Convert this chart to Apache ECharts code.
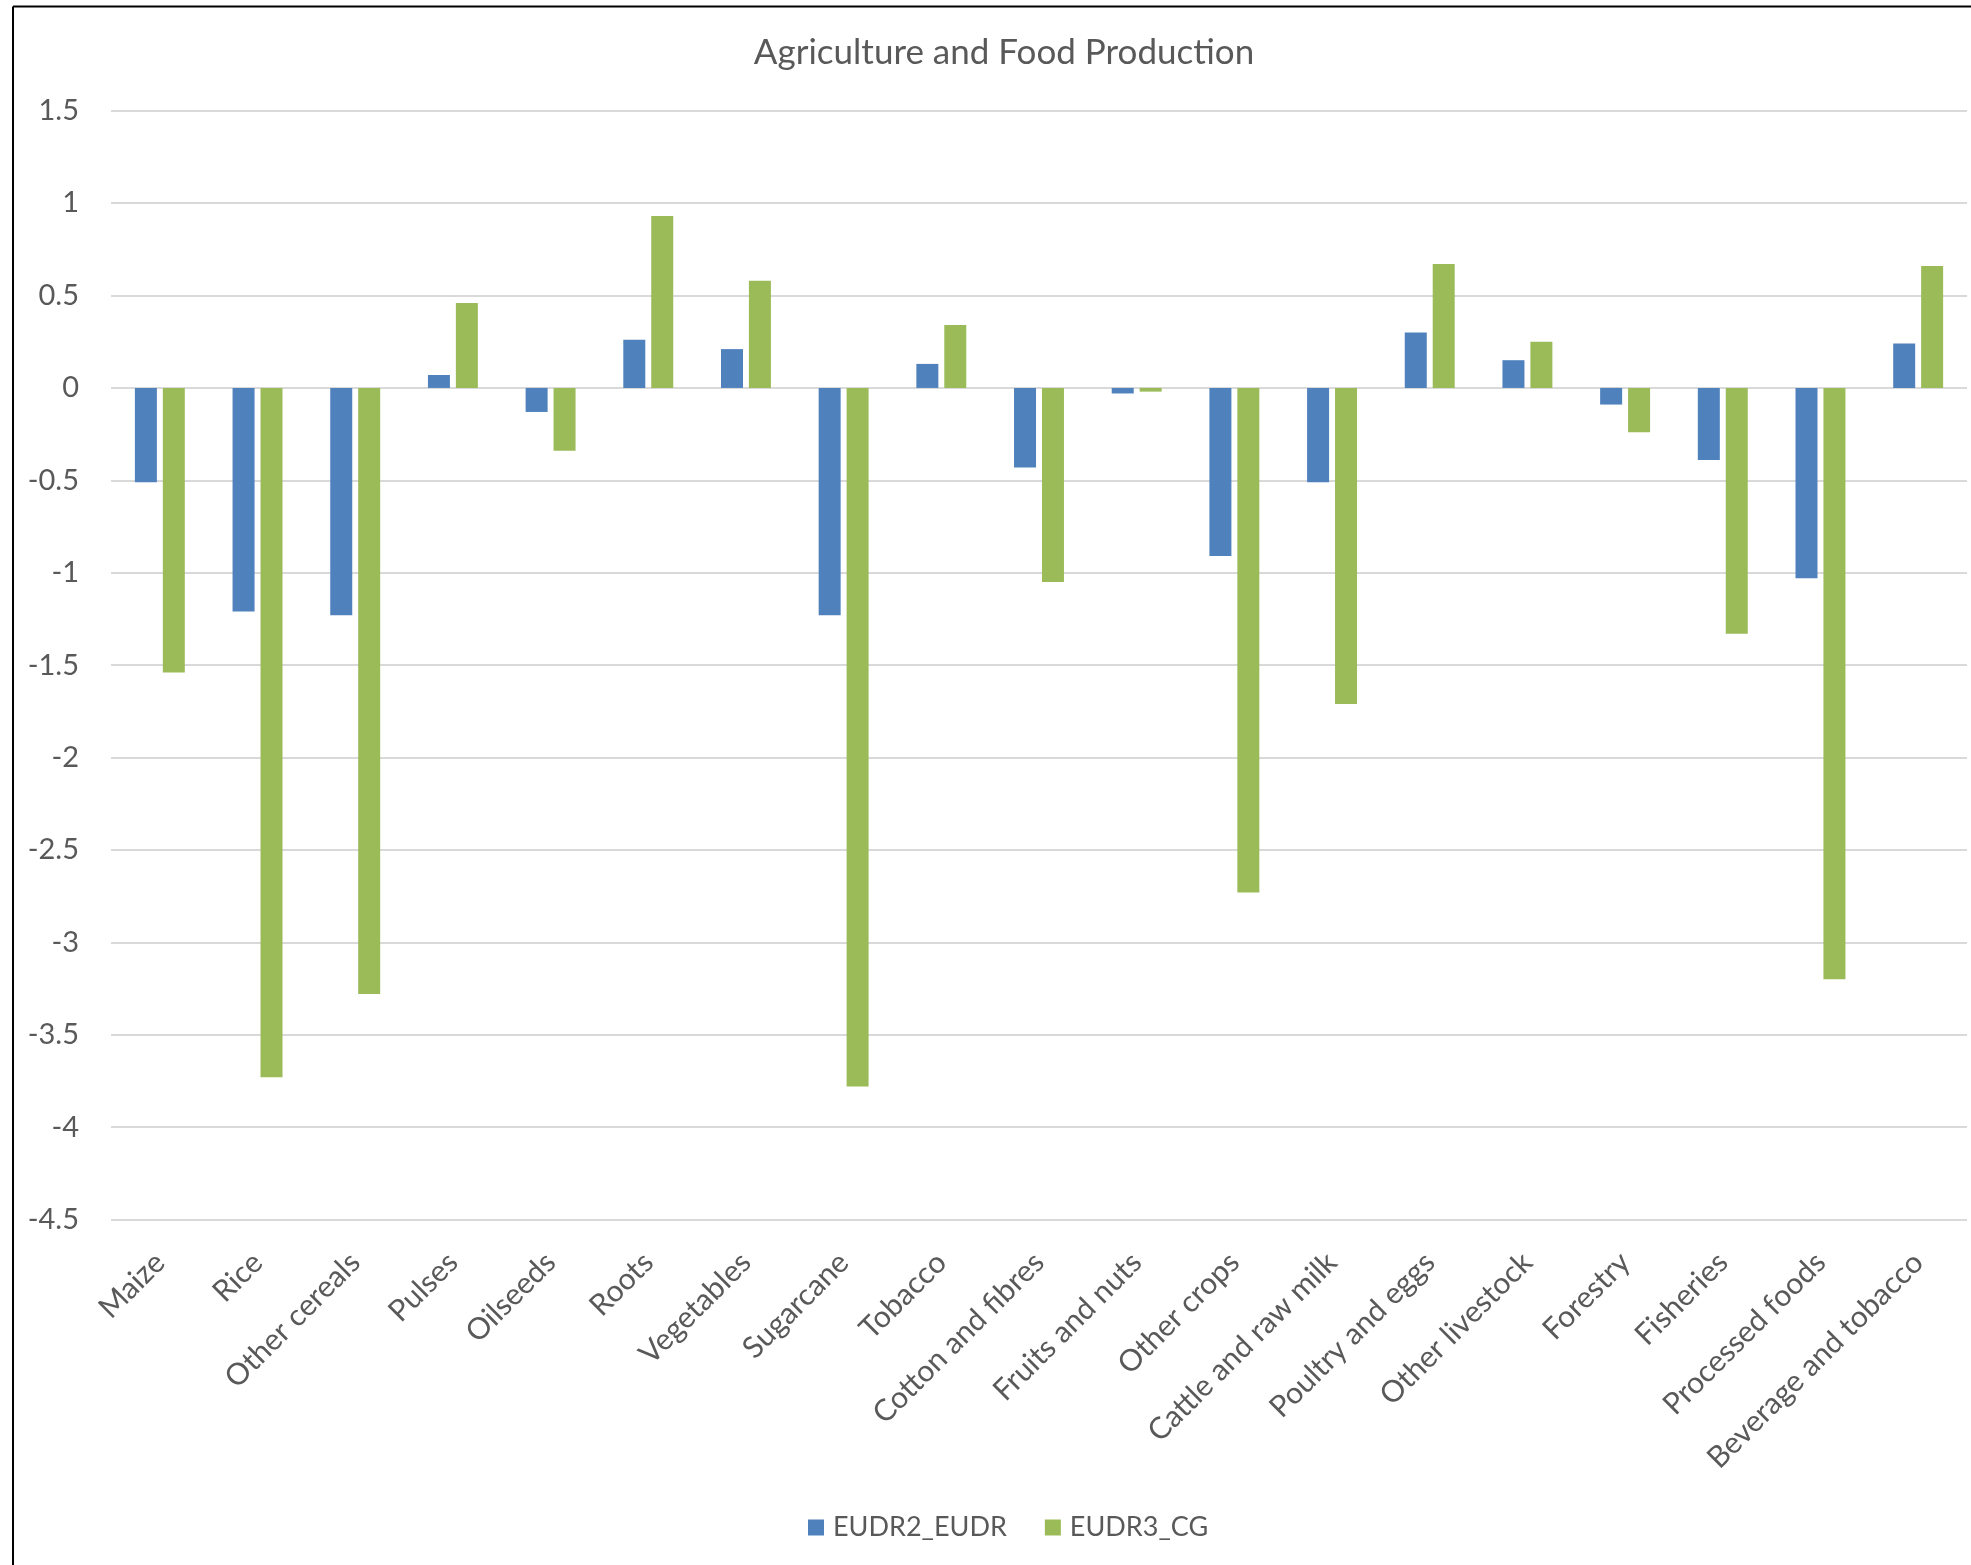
<!DOCTYPE html>
<html>
<head>
<meta charset="utf-8">
<title>Agriculture and Food Production</title>
<script src="https://cdn.jsdelivr.net/npm/echarts@6/dist/echarts.min.js"></script>
<style>
  html, body { margin: 0; padding: 0; background: #ffffff; }
  #chart { width: 1971px; height: 1565px; }
</style>
</head>
<body>
<div id="chart"></div>
<script>
// Sectors shown along the category axis
const categories = [
  'Maize', 'Rice', 'Other cereals', 'Pulses', 'Oilseeds', 'Roots', 'Vegetables',
  'Sugarcane', 'Tobacco', 'Cotton and fibres', 'Fruits and nuts', 'Other crops',
  'Cattle and raw milk', 'Poultry and eggs', 'Other livestock', 'Forestry',
  'Fisheries', 'Processed foods', 'Beverage and tobacco'
];

// Scenario results per sector
const eudr2Eudr = [
  -0.51, -1.21, -1.23, 0.07, -0.13, 0.26, 0.21,
  -1.23, 0.13, -0.43, -0.03, -0.91,
  -0.51, 0.30, 0.15, -0.09,
  -0.39, -1.03, 0.24
];
const eudr3Cg = [
  -1.54, -3.73, -3.28, 0.46, -0.34, 0.93, 0.58,
  -3.78, 0.34, -1.05, -0.02, -2.73,
  -1.71, 0.67, 0.25, -0.24,
  -1.33, -3.20, 0.66
];

const seriesNames = ['EUDR2_EUDR', 'EUDR3_CG'];

// Value axis range and step
const yMin = -4.5;
const yMax = 1.5;
const yStep = 0.5;

const FONT = 'Lato, "Open Sans", sans-serif';
const TEXT = '#595959';

const chart = echarts.init(document.getElementById('chart'), null, { renderer: 'canvas' });

chart.setOption({
  backgroundColor: '#ffffff',
  animation: false,
  color: ['#4F81BD', '#9BBB59'],
  graphic: [
    // chart frame (left and top edges)
    { type: 'line', shape: { x1: 13, y1: 6.5, x2: 1971, y2: 6.5 },
      style: { stroke: '#000000', lineWidth: 2 } },
    { type: 'line', shape: { x1: 13, y1: 6.5, x2: 13, y2: 1565 },
      style: { stroke: '#000000', lineWidth: 2 } },
    // chart title
    { type: 'text', x: 1004, y: 53,
      style: { text: 'Agriculture and Food Production', fill: TEXT,
               font: '35px ' + FONT, textAlign: 'center', textVerticalAlign: 'middle' } }
  ],
  legend: {
    data: seriesNames,
    left: 803,
    top: 1509,
    icon: 'rect',
    itemWidth: 16,
    itemHeight: 16,
    itemGap: 38,
    textStyle: { color: TEXT, fontSize: 27, fontFamily: FONT, padding: [0, 0, 0, 4] }
  },
  grid: {
    left: 111,
    right: 4,
    top: 110.7,
    bottom: 345.4,
    containLabel: false
  },
  xAxis: {
    type: 'category',
    data: categories,
    axisLine: { show: false },
    axisTick: { show: false },
    axisLabel: {
      interval: 0,
      rotate: 45,
      margin: 38,
      color: TEXT,
      fontSize: 30,
      fontFamily: FONT
    },
    splitLine: { show: false }
  },
  yAxis: {
    type: 'value',
    min: yMin,
    max: yMax,
    interval: yStep,
    axisLine: { show: false },
    axisTick: { show: false },
    axisLabel: {
      margin: 32,
      color: TEXT,
      fontSize: 29,
      fontFamily: FONT
    },
    splitLine: { lineStyle: { color: '#D9D9D9', width: 2 } }
  },
  series: [
    { name: seriesNames[0], type: 'bar', data: eudr2Eudr, barWidth: 22, barGap: '27%' },
    { name: seriesNames[1], type: 'bar', data: eudr3Cg, barWidth: 22, barGap: '27%' }
  ]
});
</script>
</body>
</html>
